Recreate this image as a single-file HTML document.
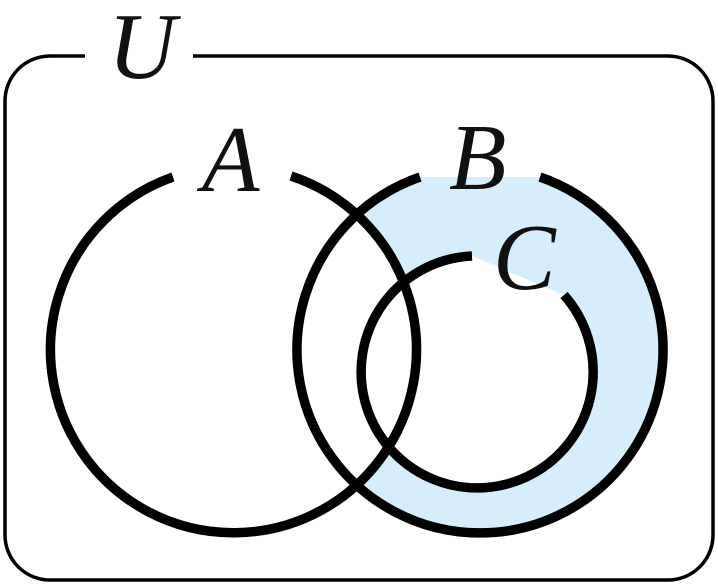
<!DOCTYPE html>
<html><head><meta charset="utf-8"><style>
html,body{margin:0;padding:0;background:#fff;}
svg{display:block}
</style></head><body>
<svg width="718" height="585" viewBox="0 0 718 585" xmlns="http://www.w3.org/2000/svg">
<path d="M540,177 A183,183 0 1 1 420,177 Z" fill="#d6eefb"/>
<circle cx="233.5" cy="350" r="183" fill="#fff"/>
<path d="M564,295 A116,116 0 1 1 472,256 Z" fill="#fff"/>
<path d="M85,56 L50,56 A45,45 0 0 0 5,101 L5,535 A45,45 0 0 0 50,580 L668,580 A45,45 0 0 0 713,535 L713,101 A45,45 0 0 0 668,56 L193,56" fill="none" stroke="#000" stroke-width="3.5"/>
<g fill="none" stroke="#000" stroke-width="9.5">
<path d="M291,176 A183,183 0 1 1 173,177"/>
<path d="M540,177 A183,183 0 1 1 420,177"/>
<path d="M564,295 A116,116 0 1 1 472,256"/>
</g>
<g font-family="'Liberation Serif', 'DejaVu Serif', serif" font-style="italic" font-size="94" fill="#111">
<text x="108" y="78">U</text>
<text x="202" y="191">A</text>
<text x="449" y="189">B</text>
<text x="493" y="289">C</text>
</g>
</svg>
</body></html>
